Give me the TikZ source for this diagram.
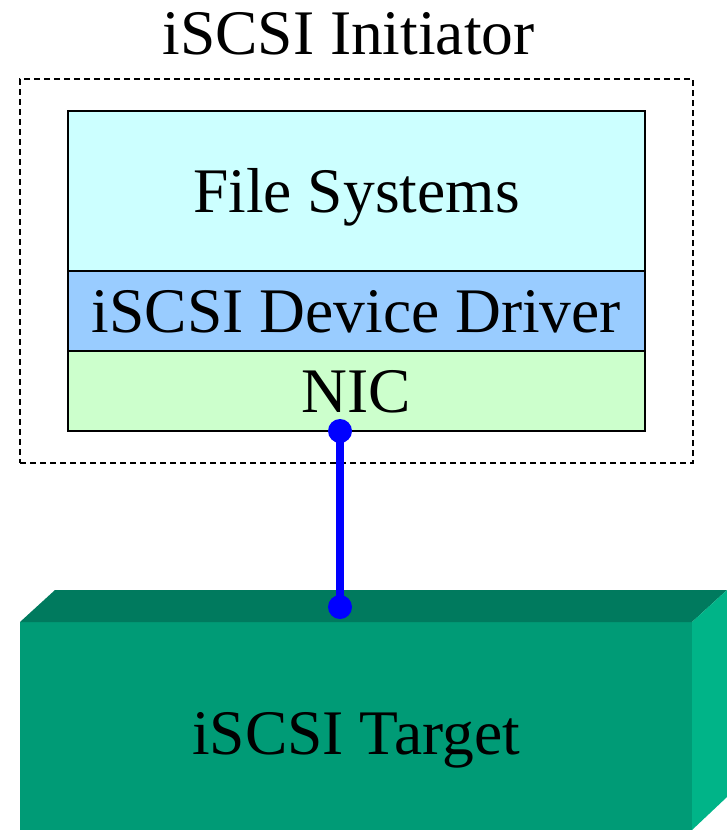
\documentclass[tikz,border=0pt]{standalone}
\usepackage{fontspec}
\setmainfont{Liberation Serif}
\usetikzlibrary{positioning,fit}
\definecolor{fscyan}{HTML}{CCFFFF}
\definecolor{drvblue}{HTML}{99CCFF}
\definecolor{nicgreen}{HTML}{CCFFCC}
\definecolor{tgttop}{HTML}{007A5E}
\definecolor{tgtfront}{HTML}{009B76}
\definecolor{tgtside}{HTML}{00B488}
\newcommand{\bigtext}{\fontsize{63.5}{70}\selectfont}
\tikzset{
    layer/.style={draw,line width=1.2pt,minimum width=577pt,inner sep=0pt,outer sep=0pt,
        text height=42pt,text depth=0pt,font=\bigtext},
    initbox/.style={draw,dashed,dash pattern=on 6pt off 4pt,line width=1.1pt,inner xsep=48pt,inner ysep=32pt},
    title/.style={font=\bigtext,inner sep=0pt},
    frontface/.style={fill=tgtfront,minimum width=672pt,minimum height=222pt,inner sep=0pt,outer sep=0pt,
        text height=42pt,text depth=0pt,font=\bigtext},
    link/.style={draw=blue,line width=8pt},
    port/.style={fill=blue},
}

\begin{document}
\begin{tikzpicture}[x=1pt,y=-1pt]
    \useasboundingbox (0,0) rectangle (727,830);
    \clip (0,0) rectangle (727,830);

    % initiator stack
    \node[layer,fill=fscyan,minimum height=160pt] (fs) at (356.5,191) {File Systems};
    \node[layer,fill=drvblue,minimum height=80pt,below=0pt of fs] (drv) {iSCSI Device Driver};
    \node[layer,fill=nicgreen,minimum height=80pt,below=0pt of drv] (nic) {NIC};
    \node[initbox,fit=(fs) (nic)] (init) {};
    \node[title,anchor=base] (ttl) at ([xshift=-8pt,yshift=24pt]init.north) {iSCSI Initiator};

    % target block
    \node[frontface] (target) at (356,733) {iSCSI Target};
    \fill[tgttop] (target.north west) -- ++(35,-32) -- ++(672,0) -- (target.north east) -- cycle;
    \fill[tgtside] (target.north east) -- ++(35,-32) -- ++(0,207) -- ++(-35,33) -- cycle;

    % link
    \path (nic.south) ++(-16.5,0) coordinate (nicport);
    \coordinate (tgtport) at (340,607);
    \draw[link] (nicport) -- (tgtport);
    \fill[port] (nicport) circle (12);
    \fill[port] (tgtport) circle (12);
\end{tikzpicture}
\end{document}
